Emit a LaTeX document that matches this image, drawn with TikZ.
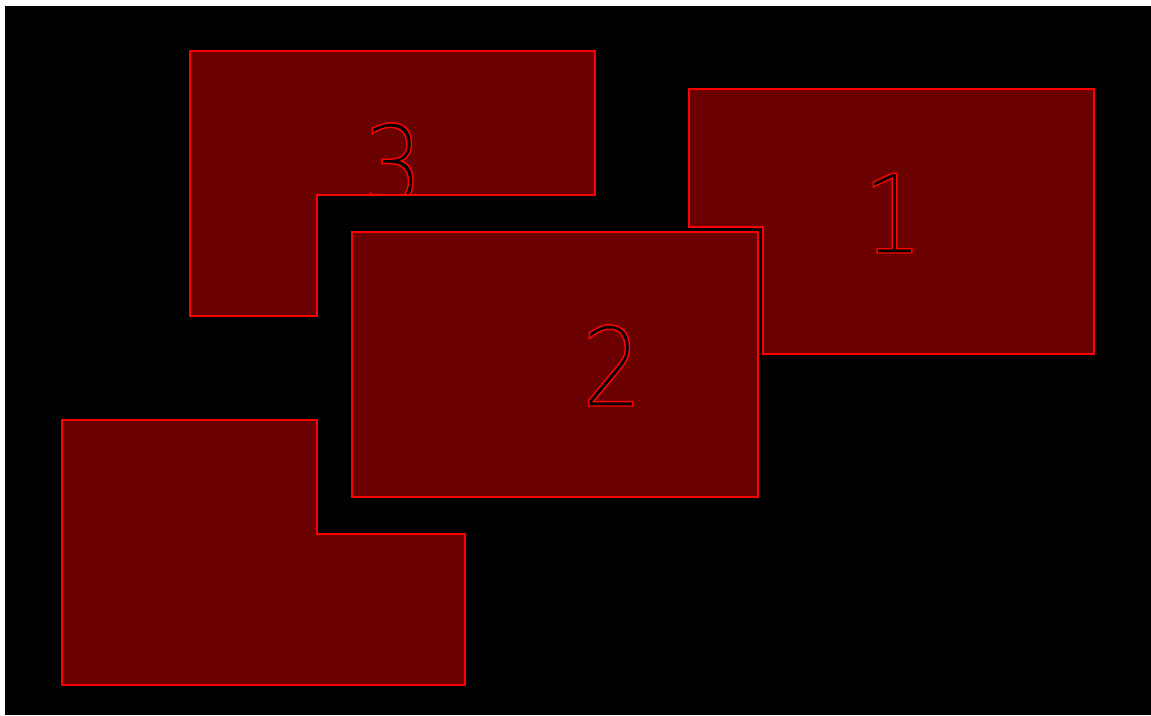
\documentclass[tikz,border=0pt]{standalone}
\usepackage{fontspec}
\usetikzlibrary{positioning}
\newfontfamily\digitfont{DejaVu Sans ExtraLight}[FakeStretch=0.86]
\definecolor{platefill}{HTML}{6A0000}
\definecolor{plateline}{HTML}{FF0000}
\tikzset{
  plate/.style = {fill=platefill, draw=plateline, line width=1.1pt},
  platelabel/.style = {anchor=base, inner sep=0pt, text=black,
    font=\digitfont\fontsize{82}{82}\selectfont}
}
% black digit with a red outline (fill + stroke text mode)
\newcommand{\platenum}[1]{\special{pdf:code 2 Tr 0 g 1 0 0 RG 1.1 w}#1\special{pdf:code 0 Tr}}

\begin{document}
\begin{tikzpicture}[x=0.75pt, y=-0.75pt]
  \useasboundingbox (0,0) rectangle (1151,715);
  \fill[white] (0,0) rectangle (1151,715);
  \fill[black] (5,6) rectangle (1151,715);

  % plate 1
  \draw[plate] (689,89) -- (1094,89) -- (1094,354) -- (763,354) -- (763,227) -- (689,227) -- cycle;
  \node[platelabel] (one) at (893,253) {\platenum{1}};

  % plate 2
  \draw[plate] (352,232) rectangle (758,497);
  \node[platelabel] (two) at (612,406) {\platenum{2}};

  % plate 3
  \draw[plate] (190,51) -- (595,51) -- (595,195) -- (317,195) -- (317,316) -- (190,316) -- cycle;
  \begin{scope}
    \clip (190,51) -- (595,51) -- (595,195) -- (317,195) -- (317,316) -- (190,316) -- cycle;
    \node[platelabel] (three) at (393,204) {\platenum{3}};
  \end{scope}
  \draw[draw=plateline, line width=1.1pt] (595,195) -- (317,195);

  % plate 4
  \draw[plate] (62,420) -- (317,420) -- (317,534) -- (465,534) -- (465,685) -- (62,685) -- cycle;
\end{tikzpicture}
\end{document}
